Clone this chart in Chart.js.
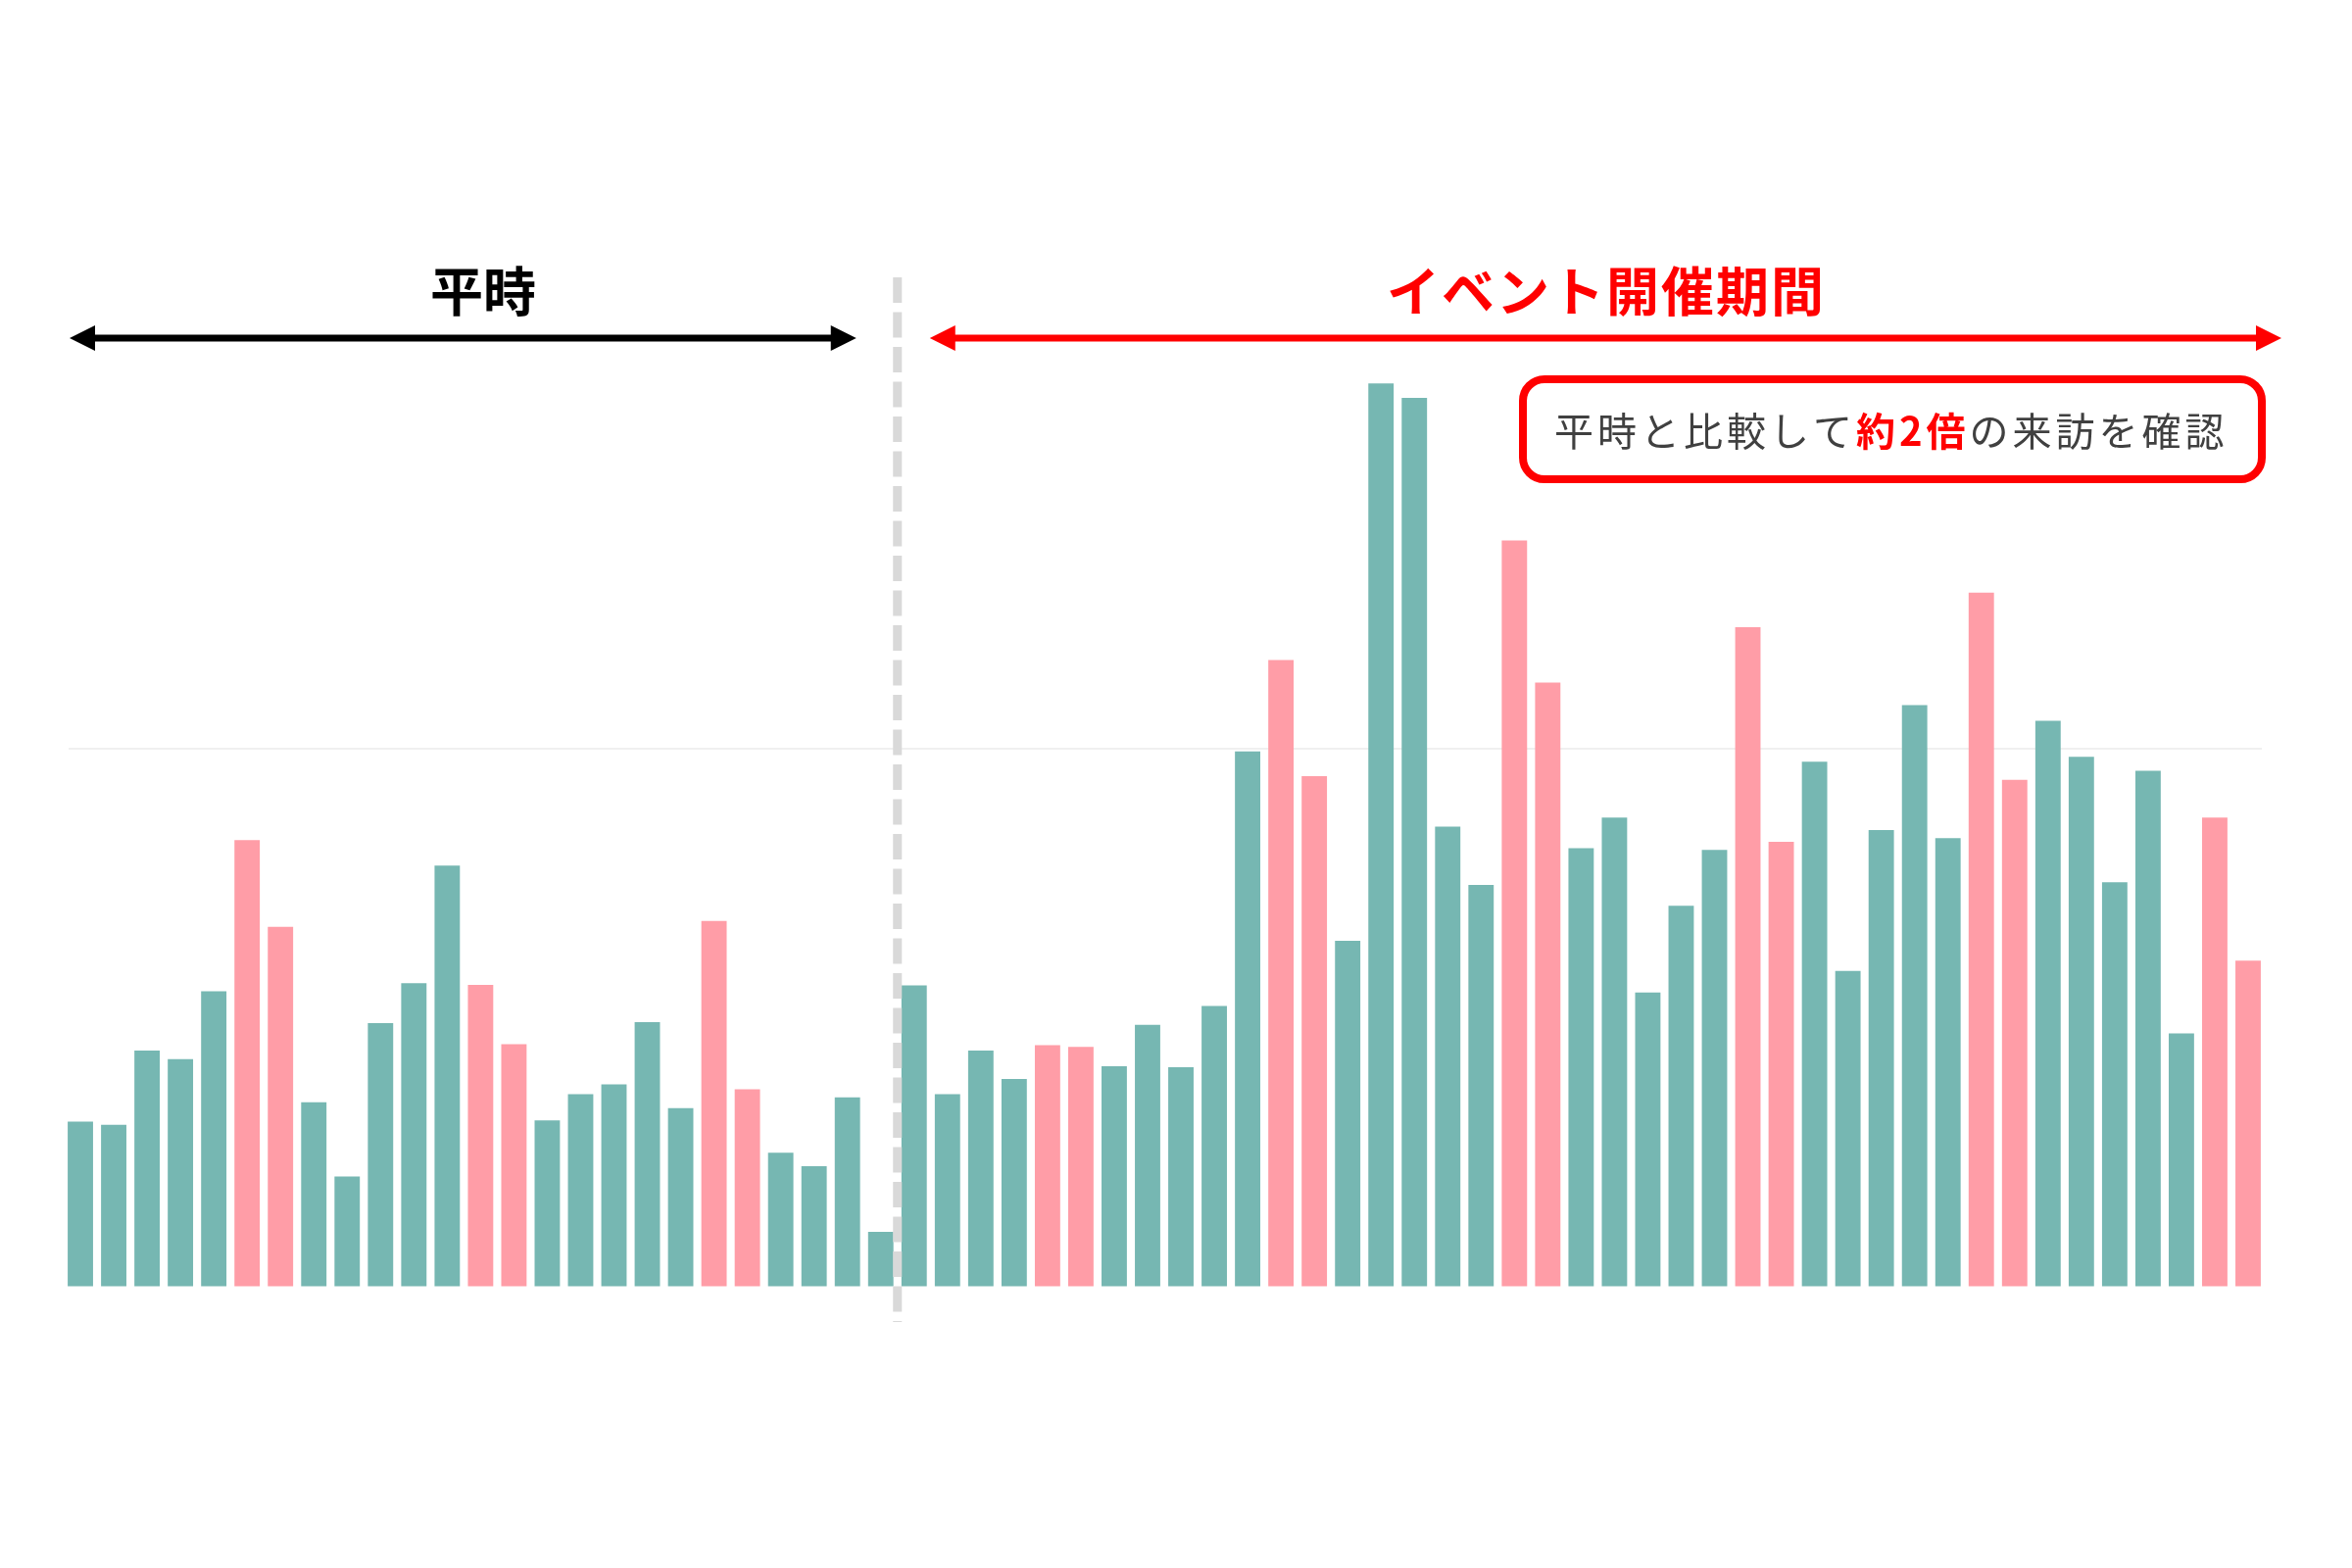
<!DOCTYPE html>
<html><head><meta charset="utf-8">
<script src="https://cdn.jsdelivr.net/npm/chart.js@4/dist/chart.umd.min.js"></script>
<style>html,body{margin:0;padding:0;background:#fff}#wrap{width:2400px;height:1600px}</style>
</head><body><div id="wrap"><canvas id="c" width="2400" height="1600"></canvas></div>
<script>
const days = ["1","2","3","4","5","6","7","8","9","10","11","12","13","14","15","16","17","18","19","20","21","22","23","24","25","26","27","28","29","30","31","32","33","34","35","36","37","38","39","40","41","42","43","44","45","46","47","48","49","50","51","52","53","54","55","56","57","58","59","60","61","62","63","64","65","66"];
const visitors = [30.7,30.1,43.9,42.3,54.9,83.0,66.9,34.3,20.5,49.0,56.4,78.3,56.1,45.1,30.9,35.8,37.6,49.2,33.2,68.0,36.7,24.9,22.4,35.2,10.2,
  56.0,35.8,43.9,38.6,44.9,44.6,41.0,48.7,40.8,52.2,99.5,116.5,94.9,64.3,167.9,165.2,85.5,74.7,138.7,112.3,81.5,87.2,54.7,70.8,81.2,122.6,82.7,97.6,58.7,84.9,108.1,83.4,129.0,94.2,105.2,98.5,75.2,95.9,47.1,87.2,60.6];
const weekend = [0,0,0,0,0,1,1,0,0,0,0,0,1,1,0,0,0,0,0,1,1,0,0,0,0,
  0,0,0,0,1,1,0,0,0,0,0,1,1,0,0,0,0,0,1,1,0,0,0,0,0,1,1,0,0,0,0,0,1,1,0,0,0,0,0,1,1];
const eventStartIndex = 25;
const periodLabels = ["平時", "イベント開催期間"];
const noteParts = [["平時と比較して", false], ["約2倍", true], ["の来訪を確認", false]];
const yTicks = [0, 100, 200];
const gridValue = 100;

const teal = "#76b7b2", pink = "#ff9da7";
const FONT = '"Noto Sans CJK JP","Noto Sans",sans-serif';

function arrow(ctx, x1, x2, y, color) {
  const hl = 26, hw = 13;
  ctx.strokeStyle = color; ctx.fillStyle = color; ctx.lineWidth = 7;
  ctx.beginPath(); ctx.moveTo(x1 + hl - 2, y); ctx.lineTo(x2 - hl + 2, y); ctx.stroke();
  ctx.beginPath(); ctx.moveTo(x1, y); ctx.lineTo(x1 + hl, y - hw); ctx.lineTo(x1 + hl, y + hw); ctx.closePath(); ctx.fill();
  ctx.beginPath(); ctx.moveTo(x2, y); ctx.lineTo(x2 - hl, y - hw); ctx.lineTo(x2 - hl, y + hw); ctx.closePath(); ctx.fill();
}

const overlay = {
  id: "overlay",
  beforeDatasetsDraw(chart) {
    const { ctx, chartArea: ca, scales: { y } } = chart;
    const gy = y.getPixelForValue(gridValue);
    ctx.save();
    ctx.strokeStyle = "#f0f0f0"; ctx.lineWidth = 2;
    ctx.beginPath(); ctx.moveTo(ca.left + 5, gy); ctx.lineTo(ca.right - 3, gy); ctx.stroke();
    ctx.restore();
  },
  afterDraw(chart) {
    const { ctx, chartArea: ca, scales: { x } } = chart;
    const div = (x.getPixelForValue(eventStartIndex - 1) + x.getPixelForValue(eventStartIndex)) / 2;
    ctx.save();
    // divider
    ctx.strokeStyle = "#d9d9d9"; ctx.lineWidth = 9; ctx.setLineDash([26, 9.5]);
    ctx.beginPath(); ctx.moveTo(div, 283); ctx.lineTo(div, ca.bottom + 36); ctx.stroke();
    ctx.setLineDash([]);
    // arrows
    const ay = 345;
    arrow(ctx, ca.left + 6, div - 42, ay, "#000000");
    arrow(ctx, div + 33, ca.right + 17, ay, "#ff0000");
    // titles
    ctx.textAlign = "center"; ctx.textBaseline = "middle";
    ctx.font = "bold 54px " + FONT;
    ctx.fillStyle = "#000000";
    ctx.fillText(periodLabels[0], 493, 297);
    ctx.fillStyle = "#ff0000";
    ctx.letterSpacing = "2px";
    ctx.fillText(periodLabels[1], 1639, 297);
    ctx.letterSpacing = "0px";
    // note box
    ctx.beginPath(); ctx.roundRect(1554, 387, 754, 102, 22);
    ctx.fillStyle = "#ffffff"; ctx.fill();
    ctx.lineWidth = 8; ctx.strokeStyle = "#ff0000"; ctx.stroke();
    ctx.textAlign = "left";
    ctx.letterSpacing = "4px";
    let tx = 1586;
    for (const [t, bold] of noteParts) {
      ctx.font = (bold ? "bold " : "") + "40px " + FONT;
      ctx.fillStyle = bold ? "#ff0000" : "#404040";
      ctx.fillText(t, tx, 440);
      tx += ctx.measureText(t).width;
    }
    ctx.restore();
  }
};

new Chart(document.getElementById("c"), {
  type: "bar",
  data: {
    labels: days,
    datasets: [{
      data: visitors,
      backgroundColor: weekend.map(w => w ? pink : teal),
      barPercentage: 0.76,
      categoryPercentage: 1.0
    }]
  },
  options: {
    responsive: false,
    animation: false,
    devicePixelRatio: 1,
    layout: { padding: { left: 65, right: 89, top: 215, bottom: 287 } },
    plugins: { legend: { display: false }, tooltip: { enabled: false } },
    scales: {
      x: { display: false },
      y: {
        min: yTicks[0], max: yTicks[yTicks.length - 1],
        afterBuildTicks: s => { s.ticks = yTicks.map(v => ({ value: v })); },
        afterFit: s => { s.width = 0; },
        ticks: { display: false },
        border: { display: false },
        grid: { drawTicks: false, color: "rgba(0,0,0,0)" }
      }
    }
  },
  plugins: [overlay]
});
</script>
</body></html>
